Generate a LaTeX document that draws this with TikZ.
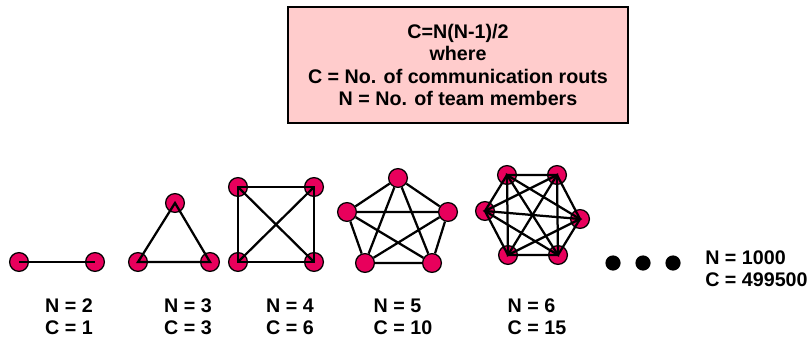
\documentclass[tikz,border=0pt]{standalone}
\usepackage{fontspec}
\setmainfont{Liberation Sans}
\usepackage{xcolor}
\usepackage{tikz}
\definecolor{memberpink}{RGB}{232,0,92}
\definecolor{notepink}{RGB}{255,204,204}
\tikzstyle{member} = [circle, draw, fill=memberpink, line width=0.9pt,
    minimum size=0.47cm, inner sep=0pt]
\tikzstyle{route} = [line width=1.6pt]
\tikzstyle{etc} = [circle, fill=black, minimum size=0.38cm, inner sep=0pt]
\tikzstyle{count} = [font=\bfseries\fontsize{14}{15.5}\selectfont, align=left]
\tikzstyle{formula} = [rectangle, draw, line width=1.3pt, fill=notepink,
    font=\bfseries\fontsize{14}{16}\selectfont, align=center,
    minimum width=8.5cm, minimum height=2.9cm]
\usetikzlibrary{positioning}

\begin{document}
\begin{tikzpicture}[x=0.025cm,y=-0.025cm]
    \useasboundingbox (0,0) rectangle (810,341);

    \node[formula] (note) at (458,65) {C=N(N-1)/2\\where\\C = No. of communication routs\\N = No. of team members};

    % N = 2
    \node[member] (a1) at (19,262) {};
    \node[member] (a2) at (95,262) {};
    \draw[route] (a1.center) -- (a2.center);

    % N = 3
    \node[member] (b1) at (175,203) {};
    \node[member] (b2) at (138,262) {};
    \node[member] (b3) at (210,262) {};
    \draw[route] (b1.center) -- (b2.center) -- (b3.center) -- cycle;

    % N = 4
    \node[member] (c1) at (238,187) {};
    \node[member] (c2) at (314,187) {};
    \node[member] (c3) at (314,262) {};
    \node[member] (c4) at (238,262) {};
    \draw[route] (c1.center) -- (c2.center) -- (c3.center) -- (c4.center) -- cycle;
    \draw[route] (c1.center) -- (c3.center);
    \draw[route] (c2.center) -- (c4.center);

    % N = 5
    \node[member] (d1) at (398,178) {};
    \node[member] (d2) at (448,212) {};
    \node[member] (d3) at (432,263) {};
    \node[member] (d4) at (365,263) {};
    \node[member] (d5) at (347,212) {};
    \draw[route] (d1) -- (d2) -- (d3) -- (d4) -- (d5) -- (d1);
    \draw[route] (d1) -- (d3) -- (d5) -- (d2) -- (d4) -- (d1);

    % N = 6
    \node[member] (e1) at (507,175) {};
    \node[member] (e2) at (557,175) {};
    \node[member] (e3) at (580,219) {};
    \node[member] (e4) at (558,255) {};
    \node[member] (e5) at (508,255) {};
    \node[member] (e6) at (485,211) {};
    \draw[route] (e1.center) -- (e2.center) -- (e3.center) -- (e4.center) -- (e5.center) -- (e6.center) -- cycle;
    \draw[route] (e1.center) -- (e3.center) -- (e5.center) -- cycle;
    \draw[route] (e2.center) -- (e4.center) -- (e6.center) -- cycle;
    \draw[route] (e1.center) -- (e4.center);
    \draw[route] (e2.center) -- (e5.center);
    \draw[route] (e3.center) -- (e6.center);

    % and so on
    \node[etc] (dot1) at (613,263) {};
    \node[etc] (dot2) at (643,263) {};
    \node[etc] (dot3) at (673,263) {};

    \node[count] (n2) at (69,317) {N = 2\\C = 1};
    \node[count] (n3) at (188,317) {N = 3\\C = 3};
    \node[count] (n4) at (290,317) {N = 4\\C = 6};
    \node[count] (n5) at (403,317) {N = 5\\C = 10};
    \node[count] (n6) at (537,317) {N = 6\\C = 15};
    \node[count, anchor=west, inner sep=0pt] (n1000) at (705,269) {N = 1000\\C = 499500};
\end{tikzpicture}
\end{document}
